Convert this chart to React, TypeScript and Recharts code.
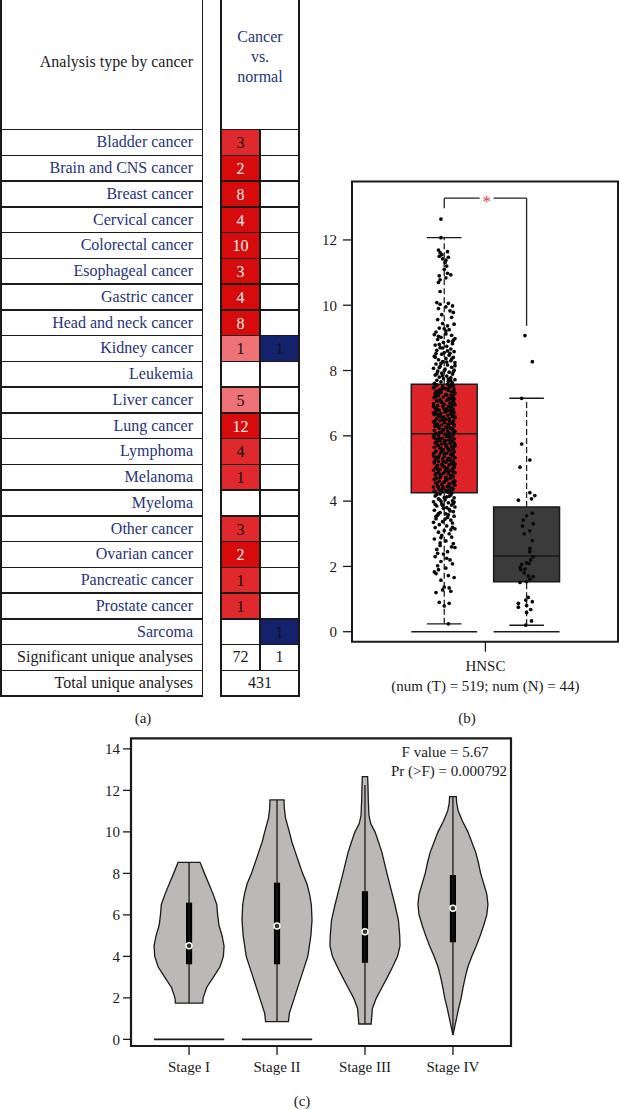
import React from "react";
import { Area, ComposedChart, ReferenceArea, ReferenceDot, ReferenceLine, Scatter, XAxis, YAxis } from "recharts";

const FONT = '"Liberation Serif", "DejaVu Serif", serif';
const INK = "#1a1a1a";
const NAVY = "#26337a";

// ---------- panel (a): oncomine summary ----------
const cancerTypes = [
  "Bladder cancer", "Brain and CNS cancer", "Breast cancer", "Cervical cancer", "Colorectal cancer",
  "Esophageal cancer", "Gastric cancer", "Head and neck cancer", "Kidney cancer", "Leukemia",
  "Liver cancer", "Lung cancer", "Lymphoma", "Melanoma", "Myeloma",
  "Other cancer", "Ovarian cancer", "Pancreatic cancer", "Prostate cancer", "Sarcoma",
];
const overCounts = [3, 2, 8, 4, 10, 3, 4, 8, 1, null, 5, 12, 4, 1, null, 3, 2, 1, 1, null];
const overShade = ["mid", "dark", "dark", "dark", "dark", "dark", "dark", "dark", "light", null, "light", "dark", "mid", "mid", null, "mid", "dark", "mid", "mid", null];
const underCounts = [null, null, null, null, null, null, null, null, 1, null, null, null, null, null, null, null, null, null, null, 1];
const significantUnique = [72, 1];
const totalUnique = 431;
const headerLines = ["Cancer", "vs.", "normal"];

const shadeFill: Record<string, string> = { dark: "#d70a0c", mid: "#e0292d", light: "#ef7276" };
const shadeText: Record<string, string> = { dark: "#fff2f2", mid: "#111", light: "#111" };

// ---------- panel (b): HNSC box plot ----------
const groupLabel = "HNSC";
const sampleSizes = [519, 44];
const tumorStats = { pos: 1, lo: 0.24, q1: 4.26, med: 6.06, q3: 7.58, hi: 12.07 };
const normalStats = { pos: 2, lo: 0.2, q1: 1.53, med: 2.32, q3: 3.82, hi: 7.15 };

// [jitter, value]
const tumorUpper = [
  [-0.04, 12.64], [-0.04, 12.07],
  [-0.07, 11.69], [-0.05, 11.61], [-0.03, 11.55], [0.04, 11.64], [-0.02, 11.42], [0.02, 11.38], [0.05, 11.47], [0.01, 11.31], [-0.06, 11.5], [0.03, 11.2],
  [0.0, 11.1], [0.04, 10.98], [0.08, 10.93], [-0.06, 10.9], [-0.05, 10.78], [-0.07, 10.7], [0.02, 10.84],
  [-0.05, 10.42],
  [-0.09, 10.08], [-0.05, 10.03], [0.05, 10.06], [0.1, 9.98], [0.02, 9.95], [-0.07, 9.9], [0.07, 9.83], [0.11, 9.78], [-0.03, 9.71], [0.09, 9.63],
  [-0.08, 9.56], [-0.02, 9.44], [0.12, 9.42], [0.04, 9.37], [-0.06, 9.3], [0.06, 9.25], [0.0, 9.28], [-0.12, 9.1], [0.11, 8.93], [-0.06, 8.8],
  [-0.1, 9.18], [0.02, 9.12], [0.09, 9.08], [-0.04, 9.02], [0.13, 8.98], [-0.08, 8.95], [0.05, 8.9], [-0.01, 8.86], [0.1, 8.82], [-0.11, 8.78],
  [0.03, 8.74], [-0.05, 8.7], [0.08, 8.66], [-0.09, 8.62], [0.12, 8.58], [0.0, 8.55], [-0.03, 8.5], [0.06, 8.47], [-0.12, 8.44], [0.11, 8.4],
  [0.02, 8.37], [-0.07, 8.33], [0.08, 8.3], [-0.02, 8.27], [0.13, 8.24], [-0.1, 8.2], [0.04, 8.17], [-0.05, 8.13], [0.09, 8.1], [-0.13, 8.07],
  [0.01, 8.04], [0.12, 8.01], [-0.08, 7.98], [0.06, 7.95], [-0.03, 7.92], [0.1, 7.89], [-0.11, 7.86], [0.03, 7.83], [-0.06, 7.8], [0.08, 7.78],
  [-0.01, 7.75], [0.13, 7.72], [-0.09, 7.7], [0.05, 7.67], [-0.04, 7.65], [0.1, 7.62], [-0.12, 7.61], [0.04, 8.6], [-0.1, 8.52], [0.09, 8.35],
  [-0.04, 8.22], [0.13, 8.15], [0.0, 7.99], [-0.09, 7.9], [0.05, 7.74],
  [0.02, 9.21], [-0.07, 9.05], [0.1, 8.88], [-0.02, 8.69], [0.07, 8.53], [-0.11, 8.41], [0.03, 8.26], [-0.06, 8.09], [0.11, 7.96], [-0.02, 7.84], [0.08, 7.69],
];
const tumorBox = [
  [0.04, 7.58], [-0.09, 7.56], [0.11, 7.53], [-0.02, 7.51], [0.07, 7.49], [-0.13, 7.47], [0.01, 7.45], [0.12, 7.43], [-0.06, 7.41], [0.05, 7.39], [-0.1, 7.37], [0.09, 7.35], [-0.04, 7.33], [0.13, 7.31],
  [-0.11, 7.29], [0.02, 7.27], [0.08, 7.25], [-0.07, 7.23], [0.1, 7.21], [-0.01, 7.19], [-0.12, 7.17], [0.06, 7.15], [0.12, 7.13], [-0.05, 7.11], [0.03, 7.09], [-0.09, 7.07], [0.11, 7.05], [-0.03, 7.03], [0.07, 7.01],
  [-0.13, 6.99], [0.0, 6.97], [0.13, 6.95], [-0.08, 6.93], [0.05, 6.91], [-0.02, 6.89], [0.09, 6.87], [-0.11, 6.85], [0.03, 6.83], [0.11, 6.81], [-0.06, 6.79], [0.07, 6.77], [-0.1, 6.75], [0.01, 6.73], [0.12, 6.71],
  [-0.04, 6.69], [0.08, 6.67], [-0.12, 6.65], [0.04, 6.63], [-0.07, 6.61], [0.1, 6.59], [-0.01, 6.57], [0.13, 6.55], [-0.09, 6.53], [0.02, 6.51], [0.06, 6.49], [-0.05, 6.47], [0.11, 6.45], [-0.13, 6.43], [0.0, 6.41],
  [0.09, 6.39], [-0.08, 6.37], [0.05, 6.35], [-0.03, 6.33], [0.12, 6.31], [-0.11, 6.29], [0.02, 6.27], [0.07, 6.25], [-0.06, 6.23], [0.1, 6.21], [-0.01, 6.19], [-0.12, 6.17], [0.04, 6.15], [0.13, 6.13], [-0.04, 6.11],
  [0.06, 6.09], [-0.1, 6.07], [0.01, 6.05], [0.11, 6.03], [-0.07, 6.01], [0.03, 5.99], [-0.13, 5.97], [0.08, 5.95], [-0.02, 5.93], [0.12, 5.91], [-0.09, 5.89], [0.05, 5.87], [-0.05, 5.85], [0.1, 5.83], [0.0, 5.81],
  [-0.11, 5.79], [0.07, 5.77], [-0.03, 5.75], [0.13, 5.73], [-0.08, 5.71], [0.02, 5.69], [0.09, 5.67], [-0.12, 5.65], [0.04, 5.63], [-0.05, 5.61], [0.11, 5.59], [-0.01, 5.57], [0.06, 5.55], [-0.1, 5.53], [0.12, 5.51],
  [-0.04, 5.49], [0.03, 5.47], [-0.13, 5.45], [0.08, 5.43], [-0.06, 5.41], [0.1, 5.39], [0.0, 5.37], [-0.09, 5.35], [0.13, 5.33], [0.05, 5.31], [-0.02, 5.29], [-0.11, 5.27], [0.07, 5.25], [0.11, 5.23], [-0.07, 5.21],
  [0.02, 5.19], [-0.12, 5.17], [0.09, 5.15], [-0.03, 5.13], [0.06, 5.11], [-0.08, 5.09], [0.12, 5.07], [0.0, 5.05], [-0.1, 5.03], [0.04, 5.01], [0.1, 4.99], [-0.05, 4.97], [-0.13, 4.95], [0.08, 4.93], [0.01, 4.91],
  [-0.07, 4.89], [0.13, 4.87], [-0.01, 4.85], [0.05, 4.83], [-0.11, 4.81], [0.09, 4.79], [-0.04, 4.77], [0.11, 4.75], [0.02, 4.73], [-0.09, 4.71], [0.07, 4.69], [-0.12, 4.67], [0.03, 4.65], [0.12, 4.63], [-0.06, 4.61],
  [0.0, 4.59], [0.1, 4.57], [-0.1, 4.55], [0.06, 4.53], [-0.03, 4.51], [0.13, 4.49], [-0.08, 4.47], [0.04, 4.45], [-0.13, 4.43], [0.08, 4.41], [-0.02, 4.39], [0.11, 4.37], [-0.06, 4.35], [0.02, 4.33], [0.09, 4.31], [-0.11, 4.29], [0.05, 4.27],
  [0.08, 7.57], [-0.12, 7.5], [0.03, 7.44], [-0.06, 7.36], [0.12, 7.28], [-0.1, 7.2], [0.05, 7.12], [-0.04, 7.04], [0.1, 6.96], [-0.13, 6.9], [0.0, 6.82], [0.09, 6.74], [-0.08, 6.66], [0.13, 6.58], [-0.02, 6.5],
  [0.07, 6.42], [-0.11, 6.34], [0.03, 6.26], [0.11, 6.18], [-0.06, 6.1], [0.06, 6.02], [-0.12, 5.94], [0.01, 5.86], [0.12, 5.78], [-0.07, 5.7], [0.04, 5.62], [-0.03, 5.54], [0.1, 5.46], [-0.13, 5.38], [0.07, 5.3],
  [-0.01, 5.22], [0.13, 5.14], [-0.09, 5.06], [0.02, 4.98], [0.11, 4.9], [-0.05, 4.82], [0.08, 4.74], [-0.12, 4.66], [0.0, 4.58], [0.12, 4.5], [-0.07, 4.42], [0.05, 4.34], [-0.03, 4.3],
  [-0.1, 7.545], [0.06, 7.485], [-0.03, 7.425], [0.11, 7.365], [-0.08, 7.305], [0.03, 7.245], [-0.12, 7.185], [0.09, 7.125], [-0.05, 7.065], [0.12, 7.005], [-0.01, 6.945],
  [0.07, 6.885], [-0.09, 6.825], [0.04, 6.765], [-0.13, 6.705], [0.1, 6.645], [-0.04, 6.585], [0.06, 6.525], [-0.11, 6.465], [0.01, 6.405], [0.12, 6.345], [-0.07, 6.285],
  [0.08, 6.225], [-0.02, 6.165], [0.11, 6.105], [-0.12, 6.045], [0.05, 5.985], [-0.06, 5.925], [0.09, 5.865], [-0.09, 5.805], [0.02, 5.745], [0.13, 5.685], [-0.04, 5.625],
  [0.07, 5.565], [-0.11, 5.505], [0.0, 5.445], [0.11, 5.385], [-0.07, 5.325], [0.04, 5.265], [-0.12, 5.205], [0.08, 5.145], [-0.02, 5.085], [0.12, 5.025], [-0.08, 4.965],
  [0.05, 4.905], [-0.1, 4.845], [0.09, 4.785], [-0.05, 4.725], [0.02, 4.665], [0.13, 4.605], [-0.09, 4.545], [0.06, 4.485], [-0.01, 4.425], [0.1, 4.365], [-0.12, 4.305],
];
const tumorLower = [
  [-0.05, 4.22], [0.08, 4.19], [-0.11, 4.16], [0.03, 4.13], [0.12, 4.1], [-0.07, 4.07], [0.01, 4.04], [0.1, 4.01], [-0.13, 3.98], [0.05, 3.95],
  [-0.03, 3.92], [0.09, 3.88], [-0.09, 3.85], [0.13, 3.82], [-0.01, 3.78], [0.06, 3.75], [-0.12, 3.72], [0.11, 3.68], [-0.05, 3.65], [0.02, 3.61],
  [-0.08, 3.57], [0.12, 3.54], [0.04, 3.5], [-0.1, 3.46], [0.08, 3.42], [-0.02, 3.37], [0.1, 3.33], [-0.06, 3.28], [0.03, 3.24], [-0.11, 3.19],
  [0.13, 3.15], [0.0, 3.1], [-0.07, 3.05], [0.06, 3.0], [-0.03, 2.95], [0.09, 2.9], [-0.12, 2.84], [0.02, 2.78], [0.11, 2.7], [-0.05, 2.64],
  [0.13, 2.58], [-0.09, 2.52], [0.04, 2.45], [-0.01, 2.38], [-0.11, 2.3], [0.07, 2.2], [-0.04, 2.15], [0.1, 2.08], [-0.08, 2.02], [0.02, 1.95],
  [-0.12, 1.83], [-0.1, 1.78], [0.05, 1.72], [0.12, 1.66], [-0.04, 1.58], [0.0, 1.37], [0.06, 1.34], [-0.02, 1.28], [0.08, 1.24], [-0.1, 1.2],
  [-0.06, 0.9], [0.06, 0.87], [0.0, 0.79], [0.05, 0.24],
  [0.09, 4.24], [-0.09, 4.2], [0.0, 4.11], [-0.04, 4.0], [0.11, 3.93], [-0.11, 3.9], [0.03, 3.8], [0.07, 3.7], [-0.07, 3.62], [0.01, 3.45],
  [-0.13, 3.35], [0.1, 3.2], [-0.04, 2.88], [0.09, 2.6], [-0.08, 2.4],
  [0.06, 4.15], [-0.06, 4.05], [0.12, 3.97], [-0.02, 3.87], [0.05, 3.58], [-0.1, 3.53], [0.08, 3.12], [-0.05, 2.72], [0.03, 2.25], [-0.07, 1.9],
];
const normalPoints = [
  [-0.02, 9.07], [0.07, 8.27], [-0.06, 7.15], [-0.06, 5.75], [0.04, 5.26], [-0.08, 5.04], [0.04, 4.26], [0.1, 4.17], [0.06, 4.07], [-0.1, 4.03],
  [0.0, 3.55], [0.07, 3.63], [-0.04, 3.42], [-0.05, 3.24], [0.08, 3.31], [0.04, 3.09], [0.07, 2.79], [0.04, 2.55], [0.04, 2.45], [0.05, 2.2],
  [0.0, 2.11], [-0.06, 2.06], [0.03, 2.09], [-0.08, 1.96], [-0.02, 1.92], [-0.07, 1.9], [0.02, 1.71], [0.08, 1.69], [0.04, 1.61], [-0.08, 1.51],
  [0.0, 1.53], [-0.01, 0.97], [0.07, 0.92], [-0.1, 0.87], [0.0, 0.8], [-0.1, 0.75], [0.05, 0.68], [0.0, 0.59], [0.06, 0.33], [-0.01, 0.2],
  [-0.03, 1.8], [0.08, 2.3], [-0.03, 3.0], [0.02, 1.05],
];
const boxTicks = [0, 2, 4, 6, 8, 10, 12];
const signifLevel = 13.28;

// ---------- panel (c): stage violins ----------
const stageNames = ["Stage I", "Stage II", "Stage III", "Stage IV"];
const fValue = 5.67;
const prValue = "0.000792";
// [value, half width]
const stage1Profile = [[1.75, 0.155], [2.0, 0.16], [2.5, 0.2], [3.0, 0.277], [3.5, 0.352], [4.0, 0.39], [4.5, 0.398], [5.0, 0.375], [5.5, 0.34], [6.0, 0.325], [6.5, 0.315], [7.0, 0.273], [7.5, 0.225], [8.0, 0.175], [8.53, 0.125]];
const stage2Profile = [[0.85, 0.13], [1.25, 0.14], [2.0, 0.197], [3.0, 0.273], [4.0, 0.35], [5.0, 0.385], [5.75, 0.398], [6.5, 0.39], [7.0, 0.37], [7.5, 0.34], [8.0, 0.29], [8.5, 0.25], [9.0, 0.21], [9.5, 0.17], [10.0, 0.14], [10.7, 0.095], [11.2, 0.082], [11.54, 0.08]];
const stage3Profile = [[0.74, 0.07], [1.0, 0.075], [1.5, 0.085], [2.0, 0.13], [2.5, 0.193], [3.0, 0.255], [3.5, 0.315], [4.0, 0.37], [4.5, 0.398], [5.0, 0.395], [5.75, 0.38], [6.5, 0.34], [7.0, 0.31], [8.0, 0.25], [9.0, 0.193], [9.5, 0.155], [10.0, 0.114], [10.4, 0.065], [10.8, 0.045], [11.5, 0.038], [12.2, 0.034], [12.66, 0.03]];
const stage4Profile = [[0.21, 0.0], [0.6, 0.02], [1.0, 0.04], [1.5, 0.065], [2.0, 0.094], [2.5, 0.115], [3.0, 0.14], [3.5, 0.17], [4.0, 0.215], [4.5, 0.265], [5.0, 0.31], [5.5, 0.35], [6.0, 0.385], [6.5, 0.398], [7.0, 0.385], [7.5, 0.35], [8.0, 0.315], [8.5, 0.29], [9.0, 0.26], [9.5, 0.215], [10.0, 0.17], [10.5, 0.11], [11.0, 0.06], [11.4, 0.042], [11.7, 0.038]];
const stageProfiles = [stage1Profile, stage2Profile, stage3Profile, stage4Profile];
const stageMin = [1.75, 0.85, 0.74, 0.21];
const stageQ1 = [3.62, 3.62, 3.69, 4.68];
const stageMedian = [4.51, 5.46, 5.19, 6.32];
const stageQ3 = [6.59, 7.55, 7.14, 7.92];
const stageMax = [8.53, 11.54, 12.26, 11.7];
const stageZeroLine = [true, true, false, false];
const violinTicks = [0, 2, 4, 6, 8, 10, 12, 14];

function violinData(center: number, profile: number[][]) {
  const first = profile[0][0];
  const last = profile[profile.length - 1][0];
  return [
    { y: first, r: [center, center] },
    ...profile.map(([y, hw]) => ({ y, r: [center - hw, center + hw] })),
    { y: last, r: [center, center] },
  ];
}

function Txt({ x, y, children, align = "center", size = 15, color = INK }: any) {
  const tx = align === "center" ? "-50%" : align === "right" ? "-100%" : "0";
  return (
    <div style={{ position: "absolute", left: x, top: y, transform: `translate(${tx}, -50%)`, fontSize: size, color, whiteSpace: "nowrap", lineHeight: 1 }}>
      {children}
    </div>
  );
}

function HLine({ x, y, w }: any) {
  return <div style={{ position: "absolute", left: x, top: y - 0.75, width: w, height: 1.5, background: INK }} />;
}
function VLine({ x, y, h }: any) {
  return <div style={{ position: "absolute", left: x - 0.75, top: y, width: 1.5, height: h, background: INK }} />;
}

function OncomineTable() {
  const top = 129.5;
  const rh = 25.75;
  const nRows = cancerTypes.length + 2;
  const bottom = top + nRows * rh;
  const rx = 221;
  const split = 260;
  const rr = 299;
  const rowLabels = [...cancerTypes, "Significant unique analyses", "Total unique analyses"];
  return (
    <>
      {cancerTypes.map((_, i) => {
        const y = top + i * rh;
        const shade = overShade[i];
        return (
          <React.Fragment key={"c" + i}>
            {shade && <div style={{ position: "absolute", left: rx, top: y, width: split - rx, height: rh, background: shadeFill[shade] }} />}
            {shade && <Txt x={(rx + split) / 2} y={y + rh / 2 + 1} size={16} color={shadeText[shade]}>{overCounts[i]}</Txt>}
            {underCounts[i] != null && <div style={{ position: "absolute", left: split, top: y, width: rr - split, height: rh, background: "#14226c" }} />}
            {underCounts[i] != null && <Txt x={(split + rr) / 2} y={y + rh / 2 + 1} size={16} color="#111">{underCounts[i]}</Txt>}
          </React.Fragment>
        );
      })}
      {rowLabels.map((name, i) => (
        <Txt key={"l" + i} x={193} y={top + i * rh + rh / 2} align="right" size={16} color={i < cancerTypes.length ? NAVY : INK}>{name}</Txt>
      ))}
      <Txt x={(rx + split) / 2} y={top + cancerTypes.length * rh + rh / 2} size={16}>{significantUnique[0]}</Txt>
      <Txt x={(split + rr) / 2} y={top + cancerTypes.length * rh + rh / 2} size={16}>{significantUnique[1]}</Txt>
      <Txt x={(rx + rr) / 2} y={top + (cancerTypes.length + 1) * rh + rh / 2} size={16}>{totalUnique}</Txt>
      <Txt x={193} y={62} align="right" size={16}>Analysis type by cancer</Txt>
      {headerLines.map((t, i) => (
        <Txt key={"h" + i} x={(rx + rr) / 2} y={37 + i * 20} size={16} color={NAVY}>{t}</Txt>
      ))}
      {Array.from({ length: nRows + 1 }, (_, i) => (
        <React.Fragment key={"g" + i}>
          <HLine x={0} y={top + i * rh} w={203} />
          <HLine x={rx - 0.75} y={top + i * rh} w={rr - rx + 1.5} />
        </React.Fragment>
      ))}
      <VLine x={0.75} y={0} h={bottom} />
      <VLine x={202.5} y={0} h={bottom} />
      <VLine x={rx} y={0} h={bottom} />
      <VLine x={rr} y={0} h={bottom} />
      <VLine x={split} y={top} h={(nRows - 1) * rh} />
      <Txt x={143} y={718}>(a)</Txt>
    </>
  );
}

function HnscTick({ x, y }: any) {
  return (
    <g>
      <text x={x} y={y + 17} textAnchor="middle" fontSize={15} fill={INK}>{groupLabel}</text>
      <text x={x} y={y + 37} textAnchor="middle" fontSize={15} fill={INK}>
        {`(num (T) = ${sampleSizes[0]}; num (N) = ${sampleSizes[1]})`}
      </text>
    </g>
  );
}

const dot = (props: any) => <circle cx={props.cx} cy={props.cy} r={1.85} fill="#0a0a0a" />;

function BoxGroup(s: typeof tumorStats, fill: string) {
  const hw = 0.4;
  const cap = 0.21;
  const p = s.pos;
  return [
    <ReferenceLine key={"zl" + p} segment={[{ x: p - hw, y: 0 }, { x: p + hw, y: 0 }]} stroke={INK} strokeWidth={1.4} ifOverflow="visible" />,
    <ReferenceLine key={"wu" + p} segment={[{ x: p, y: s.q3 }, { x: p, y: s.hi }]} stroke="#222" strokeWidth={1.3} strokeDasharray="6 3" ifOverflow="visible" />,
    <ReferenceLine key={"wl" + p} segment={[{ x: p, y: s.lo }, { x: p, y: s.q1 }]} stroke="#222" strokeWidth={1.3} strokeDasharray="6 3" ifOverflow="visible" />,
    <ReferenceLine key={"cu" + p} segment={[{ x: p - cap, y: s.hi }, { x: p + cap, y: s.hi }]} stroke={INK} strokeWidth={1.4} ifOverflow="visible" />,
    <ReferenceLine key={"cl" + p} segment={[{ x: p - cap, y: s.lo }, { x: p + cap, y: s.lo }]} stroke={INK} strokeWidth={1.4} ifOverflow="visible" />,
    <ReferenceArea key={"bx" + p} x1={p - hw} x2={p + hw} y1={s.q1} y2={s.q3} fill={fill} fillOpacity={1} stroke={INK} strokeWidth={1.5} ifOverflow="visible" />,
    <ReferenceLine key={"md" + p} segment={[{ x: p - hw, y: s.med }, { x: p + hw, y: s.med }]} stroke={INK} strokeWidth={1.5} ifOverflow="visible" />,
  ];
}

function BoxPanel() {
  const xDom: [number, number] = [-0.12, 3.11];
  const yDom: [number, number] = [-0.306, 13.79];
  const tumorPts = [...tumorUpper, ...tumorBox, ...tumorLower].map(([d, v]) => ({ x: tumorStats.pos + d, y: v }));
  const normalPts = normalPoints.map(([d, v]) => ({ x: normalStats.pos + d, y: v }));
  return (
    <div style={{ position: "absolute", left: 300, top: 170 }}>
      <ComposedChart width={320} height={530} margin={{ top: 11.5, right: 2, bottom: 0, left: 0 }}>
        <XAxis type="number" dataKey="x" domain={xDom} ticks={[1.5]} allowDataOverflow axisLine={false}
          tickSize={10} tickLine={{ stroke: INK, strokeWidth: 1.3 }} height={58.3} tick={<HnscTick />} interval={0} />
        <YAxis type="number" dataKey="y" domain={yDom} ticks={boxTicks} allowDataOverflow axisLine={false} width={52}
          tickSize={9} tickMargin={6} tickLine={{ stroke: INK, strokeWidth: 1.3 }} tick={{ fill: INK, fontSize: 15 }} interval={0} />
        <ReferenceArea x1={xDom[0]} x2={xDom[1]} y1={yDom[0]} y2={yDom[1]} fill="none" stroke={INK} strokeWidth={2} ifOverflow="visible" />
        {BoxGroup(tumorStats, "#dd2327")}
        {BoxGroup(normalStats, "#3b3b3b")}
        <ReferenceLine segment={[{ x: 1, y: 12.97 }, { x: 1, y: signifLevel }]} stroke="#222" strokeWidth={1.3} ifOverflow="visible" />
        <ReferenceLine segment={[{ x: 1, y: signifLevel }, { x: 1.43, y: signifLevel }]} stroke="#222" strokeWidth={1.3} ifOverflow="visible" />
        <ReferenceLine segment={[{ x: 1.6, y: signifLevel }, { x: 2, y: signifLevel }]} stroke="#222" strokeWidth={1.3} ifOverflow="visible" />
        <ReferenceLine segment={[{ x: 2, y: signifLevel }, { x: 2, y: 9.37 }]} stroke="#222" strokeWidth={1.3} ifOverflow="visible" />
        <ReferenceDot x={1.515} y={13.18} r={0} ifOverflow="visible"
          label={{ value: "*", position: "center", fill: "#e8363a", fontSize: 17 }} />
        <Scatter data={tumorPts} shape={dot} isAnimationActive={false} />
        <Scatter data={normalPts} shape={dot} isAnimationActive={false} />
      </ComposedChart>
      <Txt x={167} y={548}>(b)</Txt>
    </div>
  );
}

function ViolinPanel() {
  const xDom: [number, number] = [0.34, 4.66];
  const yDom: [number, number] = [-0.32, 14.51];
  return (
    <div style={{ position: "absolute", left: 80, top: 728 }}>
      <ComposedChart width={440} height={358} layout="vertical" margin={{ top: 10.3, right: 9, bottom: 0, left: 0 }}>
        <XAxis type="number" domain={xDom} ticks={[1, 2, 3, 4]} allowDataOverflow axisLine={false} height={40}
          tickSize={9} tickMargin={6} tickLine={{ stroke: INK, strokeWidth: 1.3 }} interval={0}
          tick={{ fill: INK, fontSize: 15 }} tickFormatter={(v: number) => stageNames[v - 1]} />
        <YAxis type="number" dataKey="y" domain={yDom} ticks={violinTicks} allowDataOverflow reversed axisLine={false} width={51}
          tickSize={8} tickMargin={3} tickLine={{ stroke: INK, strokeWidth: 1.3 }} interval={0}
          tick={{ fill: INK, fontSize: 15 }} />
        <ReferenceArea x1={xDom[0]} x2={xDom[1]} y1={yDom[0]} y2={yDom[1]} fill="none" stroke={INK} strokeWidth={2.2} ifOverflow="visible" />
        {stageProfiles.map((prof, i) => (
          <Area key={"v" + i} data={violinData(i + 1, prof)} dataKey="r" type="linear" fill="#bcb8b7" fillOpacity={1}
            stroke={INK} strokeWidth={1.3} dot={false} activeDot={false} isAnimationActive={false} />
        ))}
        {stageNames.map((_, i) => (
          <ReferenceLine key={"w" + i} segment={[{ x: i + 1, y: stageMin[i] }, { x: i + 1, y: stageMax[i] }]} stroke={INK} strokeWidth={1.3} ifOverflow="visible" />
        ))}
        {stageNames.map((_, i) => (
          <ReferenceArea key={"b" + i} x1={i + 1 - 0.035} x2={i + 1 + 0.035} y1={stageQ1[i]} y2={stageQ3[i]} fill="#000" fillOpacity={1} ifOverflow="visible" />
        ))}
        {stageNames.map((_, i) => (
          <ReferenceDot key={"m" + i} x={i + 1} y={stageMedian[i]} r={3} fill="#333" stroke="#fff" strokeWidth={1.4} ifOverflow="visible" />
        ))}
        {stageNames.map((_, i) =>
          stageZeroLine[i] ? (
            <ReferenceLine key={"z" + i} segment={[{ x: i + 1 - 0.4, y: 0 }, { x: i + 1 + 0.4, y: 0 }]} stroke={INK} strokeWidth={1.6} ifOverflow="visible" />
          ) : null
        )}
      </ComposedChart>
      <Txt x={365} y={24}>{`F value = ${fValue}`}</Txt>
      <Txt x={427} y={43} align="right">{`Pr (>F) = ${prValue}`}</Txt>
      <Txt x={222} y={373}>(c)</Txt>
    </div>
  );
}

export default function App() {
  return (
    <div style={{ position: "absolute", left: 0, top: 0, width: 620, height: 1109, background: "#fff", fontFamily: FONT, overflow: "hidden" }}>
      <OncomineTable />
      <BoxPanel />
      <ViolinPanel />
    </div>
  );
}
